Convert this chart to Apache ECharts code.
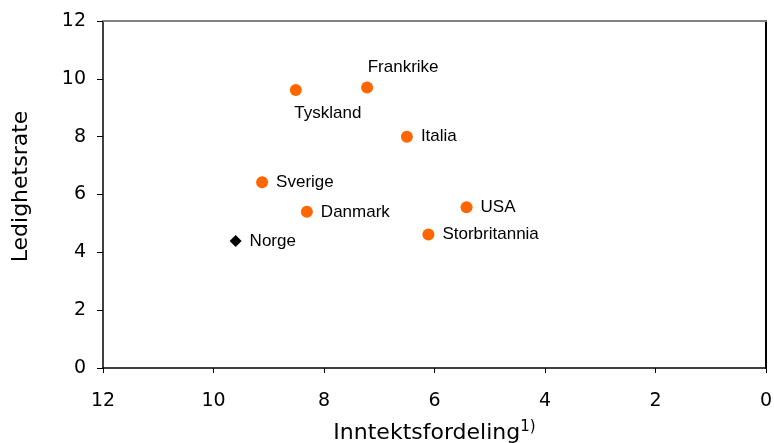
<!DOCTYPE html>
<html><head><meta charset="utf-8">
<script src="https://cdn.jsdelivr.net/npm/echarts@6/dist/echarts.min.js"></script>
<style>html,body{margin:0;padding:0;background:#fff}#c{width:774px;height:443px}</style>
</head><body><div id="c"></div>
<script>
const countries = ['Sverige','Danmark','Tyskland','Frankrike','Italia','USA','Storbritannia'];
const incomeDist = [9.12, 8.31, 8.51, 7.22, 6.50, 5.42, 6.11];
const unemployment = [6.42, 5.40, 9.61, 9.70, 8.00, 5.56, 4.62];
const norgeName = ['Norge'];
const norgeIncome = [9.60];
const norgeUnemp = [4.39];
const xTicks = [0, 2, 4, 6, 8, 10, 12];
const yTicks = [0, 2, 4, 6, 8, 10, 12];

const labelPos = {
  'Tyskland': {position: 'bottom', offset: [32, 1]},
  'Frankrike': {position: 'top', offset: [36, 2]}
};

const orangeData = countries.map((c, i) => {
  const d = {name: c, value: [incomeDist[i], unemployment[i]]};
  if (labelPos[c]) d.label = labelPos[c];
  return d;
});
const norgeData = norgeName.map((c, i) => ({name: c, value: [norgeIncome[i], norgeUnemp[i]]}));

const tickFont = {fontFamily: 'DejaVu Sans', fontSize: 19, color: '#000'};
const lbl = {show: true, position: 'right', distance: 8, formatter: '{b}', fontFamily: 'Liberation Sans', fontSize: 17, color: '#000'};

const chart = echarts.init(document.getElementById('c'));
chart.setOption({
  animation: false,
  grid: {left: 103, right: 8, top: 21, bottom: 75, containLabel: false, outerBoundsMode: 'none'},
  xAxis: [{
    type: 'value', min: 0, max: 12, interval: 2, inverse: true,
    axisLine: {show: true, onZero: false, lineStyle: {color: '#000', width: 1.5}},
    axisTick: {show: true, inside: false, length: 5, lineStyle: {color: '#000'}},
    axisLabel: Object.assign({margin: 24, formatter: v => xTicks.includes(v) ? String(v) : ''}, tickFont),
    splitLine: {show: false},
    name: 'Inntektsfordeling{s|1)}',
    nameLocation: 'middle', nameGap: 52,
    nameTextStyle: {fontFamily: 'DejaVu Sans', fontSize: 22, color: '#000',
      rich: {s: {fontFamily: 'DejaVu Sans', fontSize: 15, verticalAlign: 'top', padding: [0,0,12,0], color: '#000'}}}
  }, {
    type: 'value', position: 'top', min: 0, max: 12, inverse: true,
    axisLine: {show: true, onZero: false, lineStyle: {color: '#808080', width: 2}},
    axisTick: {show: false}, axisLabel: {show: false}, splitLine: {show: false}
  }],
  yAxis: [{
    type: 'value', min: 0, max: 12, interval: 2, position: 'left',
    axisLine: {show: true, onZero: false, lineStyle: {color: '#000', width: 1.5}},
    axisTick: {show: true, inside: false, length: 6, lineStyle: {color: '#000'}},
    axisLabel: Object.assign({margin: 17, formatter: v => yTicks.includes(v) ? String(v) : ''}, tickFont),
    splitLine: {show: false},
    name: 'Ledighetsrate', nameLocation: 'middle', nameGap: 71,
    nameTextStyle: {fontFamily: 'DejaVu Sans', fontSize: 22, color: '#000', padding: [0, 0, 0, 16]}
  }, {
    type: 'value', position: 'right', min: 0, max: 12,
    axisLine: {show: true, onZero: false, lineStyle: {color: '#000', width: 2}},
    axisTick: {show: false}, axisLabel: {show: false}, splitLine: {show: false}
  }],
  series: [{
    type: 'scatter', data: orangeData, symbol: 'circle', symbolSize: 12,
    itemStyle: {color: '#FF6600', opacity: 1}, label: lbl
  }, {
    type: 'scatter', data: norgeData, symbol: 'diamond', symbolSize: 12,
    itemStyle: {color: '#000', opacity: 1}, label: lbl
  }]
});
</script></body></html>
